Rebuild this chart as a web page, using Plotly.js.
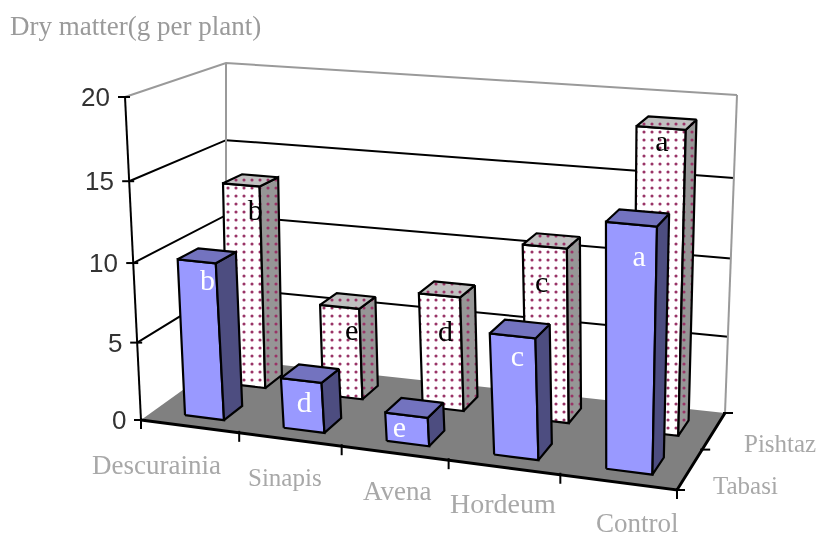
<!DOCTYPE html>
<html><head><meta charset="utf-8">
<script src="https://cdn.plot.ly/plotly-3.0.1.min.js"></script>
<style>html,body{margin:0;padding:0;background:#fff}#c{width:819px;height:539px;filter:blur(0.6px)}</style>
</head><body><div id="c"></div>
<script>
// ---- data ----
const categories = ['Descurainia','Sinapis','Avena','Hordeum','Control'];
const seriesNames = ['Tabasi','Pishtaz'];
const tabasi  = [10.0, 3.2, 1.8, 7.5, 14.8];
const pishtaz = [13.3, 6.0, 7.4, 11.1, 18.8];
const tabasiLetters  = ['b','d','e','c','a'];
const pishtazLetters = ['b','e','d','c','a'];
const zTicks = [0,5,10,15,20];

// ---- 3D-look projection: plot units are the page's pixels ----
const floorQuad = [[141,420],[677,490],[725,413],[226,359]];
const topQuad   = [[125,97],[688,145],[737,95],[226,63]];
const zMax = 20, nCat = categories.length, nDepth = 2, kz = 0.058, warpU = 0.05;
function quadMap(q){
  const [[x0,y0],[x1,y1],[x2,y2],[x3,y3]] = q;
  const dx1=x1-x2,dx2=x3-x2,sx=x0-x1+x2-x3,dy1=y1-y2,dy2=y3-y2,sy=y0-y1+y2-y3;
  const den=dx1*dy2-dx2*dy1, g=(sx*dy2-dx2*sy)/den, h=(dx1*sy-sx*dy1)/den;
  const a=x1-x0+g*x1,b=x3-x0+h*x3,d=y1-y0+g*y1,e=y3-y0+h*y3;
  return (s,t)=>{const w=g*s+h*t+1;return [(a*s+b*t+x0)/w,(d*s+e*t+y0)/w];};
}
const mapFloor = quadMap(floorQuad), mapTop = quadMap(topQuad);
function P(u,v,z){
  const s0=u/nCat, su=s0+warpU*s0*(1-s0);
  const A=mapFloor(su,v/nDepth), B=mapTop(su,v/nDepth), s=z/zMax;
  const f=s/(1+kz*(1-s));
  return [A[0]+(B[0]-A[0])*f, A[1]+(B[1]-A[1])*f];
}
const traces=[];
function path(pts,color,width,extra){
  traces.push(Object.assign({type:'scatter',mode:'lines',x:pts.map(p=>p[0]),y:pts.map(p=>p[1]),
    line:{color:color,width:width},hoverinfo:'skip',showlegend:false,cliponaxis:false},extra||{}));
}
function face(pts,fill,pattern){
  const c=pts.concat([pts[0]]);
  path(c,'#000',2.2,Object.assign({fill:'toself',fillcolor:fill},pattern?{fillpattern:pattern}:{}));
}
const GRID='#000', EDGE='#9a9a9a';
// walls and gridlines
zTicks.slice(1).forEach(z=>{
  path([P(0,0,z),P(0,nDepth,z),P(nCat,nDepth,z)], z===zMax?EDGE:GRID, 2);
});
path([P(0,nDepth,0),P(0,nDepth,zMax)],EDGE,2);
path([P(nCat,nDepth,0),P(nCat,nDepth,zMax)],EDGE,2);
// floor
const floorCorners=[P(0,0,0),P(nCat,0,0),P(nCat,nDepth,0),P(0,nDepth,0),P(0,0,0)];
traces.push({type:'scatter',mode:'lines',x:floorCorners.map(p=>p[0]),y:floorCorners.map(p=>p[1]),fill:'toself',fillcolor:'#808080',
  line:{width:0,color:'#808080'},hoverinfo:'skip',showlegend:false});
path([P(0,0,0),P(nCat,0,0),P(nCat,nDepth,0)],'#000',3);
// axis and ticks
path([P(0,0,0),P(0,0,zMax)],'#000',2);
zTicks.forEach(z=>{const p=P(0,0,z);path([[p[0]-7,p[1]],[p[0]+5,p[1]]],'#000',2);});
for(let u=0;u<=nCat;u++){const p=P(u,0,0);path([[p[0],p[1]-2],[p[0],p[1]+9]],'#000',2);}
for(let v=0;v<=nDepth;v++){const p=P(nCat,v,0);path([[p[0]-2,p[1]],[p[0]+8,p[1]]],'#000',2);}
// bars, back row first
const U0=0.33,U1=0.73,D0=0.27,D1=0.70;
const dots={shape:'.',fgcolor:'#993366',size:8,solidity:0.12,fillmode:'replace'};
function bar(i,row,val,cols,pat){
  const a=i+U0,b=i+U1,c=row+D0,d=row+D1;
  face([P(a,c,0),P(b,c,0),P(b,c,val),P(a,c,val)],cols[0],pat?Object.assign({bgcolor:cols[0]},dots):null);
  face([P(b,c,0),P(b,d,0),P(b,d,val),P(b,c,val)],cols[1],pat?Object.assign({bgcolor:cols[1]},dots):null);
  face([P(a,c,val),P(b,c,val),P(b,d,val),P(a,d,val)],cols[2],pat?Object.assign({bgcolor:cols[2]},dots):null);
}
pishtaz.forEach((v,i)=>bar(i,1,v,['#ffffff','#969696','#c0c0c0'],true));
tabasi.forEach((v,i)=>bar(i,0,v,['#9999ff','#4d4d80','#7373bf'],false));
// letters on the bars: nudged from each bar's top-centre, in pixels
const serif='"Liberation Serif",serif';
function letters(vals,text,row,color,dx,dy){
  const pts=vals.map((v,i)=>P(i+(U0+U1)/2,row+D0,v));
  traces.push({type:'scatter',mode:'text',x:pts.map((p,i)=>p[0]+dx[i]),y:pts.map((p,i)=>p[1]+dy[i]),text:text,
    textposition:'middle center',textfont:{family:serif,size:30,color:color},
    hoverinfo:'skip',showlegend:false,cliponaxis:false});
}
letters(tabasi,tabasiLetters,0,'#fff',[11,3,-7,5,8],[21,24,14,23,34]);
letters(pishtaz,pishtazLetters,1,'#000',[14,12,6,-3,1],[28,26,38,38,16]);

const GREY='#a8a8a8';
const note=(text,x,y,size,color,anchor,family)=>({text,x,y,xref:'x',yref:'y',showarrow:false,borderpad:0,
  xanchor:anchor||'center',yanchor:'middle',font:{family:family||serif,size,color}});
const annotations=[note('Dry matter(g per plant)',9,26,27,'#9a9a9a','left')];
const catX=[156,285,397,503,637], catY=[465,477,491,503,523], catSize=[27,25,27,28,27];
categories.forEach((c,i)=>annotations.push(note(c,catX[i],catY[i],catSize[i],GREY)));
const serX=[745,780], serY=[485,443];
seriesNames.forEach((s,i)=>annotations.push(note(s,serX[i],serY[i],25,GREY)));
zTicks.forEach(z=>{const p=P(0,0,z);annotations.push(note(String(z),p[0]-14,p[1],26,'#333','right','"Liberation Sans",Arial,sans-serif'));});

Plotly.newPlot('c',traces,{
  width:819,height:539,margin:{l:0,r:0,t:0,b:0},paper_bgcolor:'#fff',plot_bgcolor:'#fff',showlegend:false,
  xaxis:{range:[0,819],visible:false,fixedrange:true},
  yaxis:{range:[539,0],visible:false,fixedrange:true},
  annotations:annotations
},{displayModeBar:false,staticPlot:true});
</script></body></html>
